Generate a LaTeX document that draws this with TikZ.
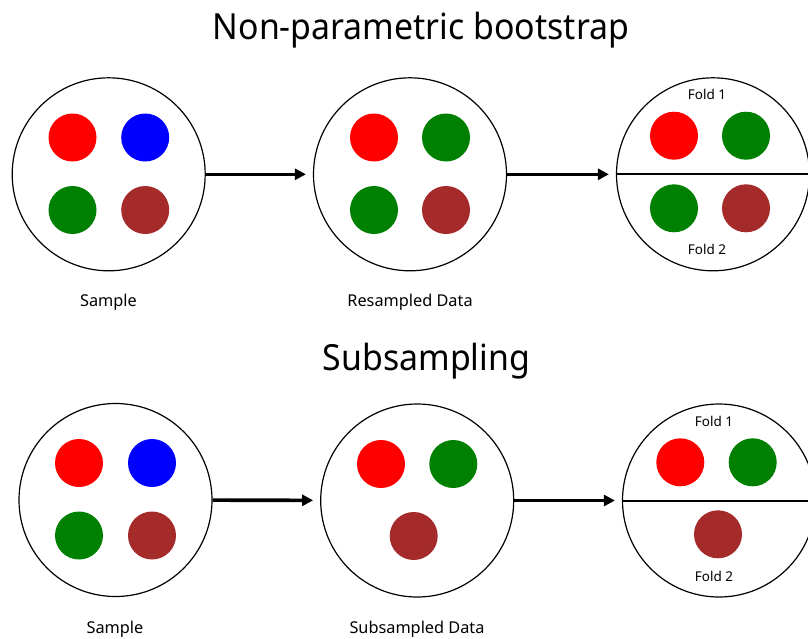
\documentclass[tikz,border=0pt]{standalone}
\usepackage{fontspec}
\setmainfont{Noto Sans}
\usetikzlibrary{arrows.meta}
\definecolor{dred}{HTML}{FF0000}
\definecolor{dblue}{HTML}{0000FF}
\definecolor{dgreen}{HTML}{008000}
\definecolor{dbrown}{HTML}{A52A2A}
\tikzset{
  bag/.style={circle, draw=black, line width=1.2pt, minimum size=193pt, inner sep=0pt},
  dot/.style={circle, fill=#1, draw=none, minimum size=48pt, inner sep=0pt},
  flow/.style={line width=3.6pt, -{Triangle[length=11pt,width=11pt]}, shorten >=7pt},
  divider/.style={line width=2pt},
  title/.style={anchor=base, font=\fontsize{36}{40}\selectfont},
  caption/.style={anchor=base, font=\fontsize{16.3}{19}\selectfont},
  foldlbl/.style={anchor=base, font=\fontsize{13.5}{15}\selectfont},
}
\begin{document}
\begin{tikzpicture}[x=1pt,y=-1pt]
\useasboundingbox (0,0) rectangle (808,638);
\clip (0,0) rectangle (808,638);
% ---------- top row ----------
\node[title] (t1) at (421,39) {\scalebox{0.94}[1]{Non-parametric bootstrap}};
\node[bag] (a1) at (108.7,174.3) {};
\node[bag] (a2) at (410,174.3) {};
\node[bag] (a3) at (713,174.3) {};
\node[dot=dred]   (a1r) at (72.5,137.5) {};
\node[dot=dblue]  (a1b) at (145.2,137.5) {};
\node[dot=dgreen] (a1g) at (72.5,210) {};
\node[dot=dbrown] (a1k) at (145.2,210) {};
\node[dot=dred]   (a2r) at (374,137.5) {};
\node[dot=dgreen] (a2g) at (446,137.5) {};
\node[dot=dgreen] (a2g2) at (374,210) {};
\node[dot=dbrown] (a2k) at (446,210) {};
\node[dot=dred]   (a3r) at (674,135.7) {};
\node[dot=dgreen] (a3g) at (746,135.7) {};
\node[dot=dgreen] (a3g2) at (674,208.3) {};
\node[dot=dbrown] (a3k) at (746,208.3) {};
\draw[divider] (a3.west) -- (a3.east);
\node[foldlbl] (a3f1) at (707,99.3) {Fold 1};
\node[foldlbl] (a3f2) at (707,254) {Fold 2};
\draw[flow] (a1) -- (a2);
\draw[flow] (a2) -- (a3);
\node[caption] (a1l) at (108.5,306.5) {Sample};
\node[caption] (a2l) at (410,306.5) {Resampled Data};
% ---------- bottom row ----------
\node[title] (t2) at (426.5,370) {\scalebox{0.94}[1]{Subsampling}};
\node[bag] (b1) at (115.5,500) {};
\node[bag] (b2) at (417.2,500.5) {};
\node[bag] (b3) at (719,500.5) {};
\node[dot=dred]   (b1r) at (79,463) {};
\node[dot=dblue]  (b1b) at (152,463) {};
\node[dot=dgreen] (b1g) at (79,535.5) {};
\node[dot=dbrown] (b1k) at (152,535.5) {};
\node[dot=dred]   (b2r) at (381,464) {};
\node[dot=dgreen] (b2g) at (453.3,464) {};
\node[dot=dbrown] (b2k) at (413.7,536) {};
\node[dot=dred]   (b3r) at (680.3,462.3) {};
\node[dot=dgreen] (b3g) at (752.7,462.3) {};
\node[dot=dbrown] (b3k) at (718,534.3) {};
\draw[divider] (b3.west) -- (b3.east);
\node[foldlbl] (b3f1) at (714,426) {Fold 1};
\node[foldlbl] (b3f2) at (714,581) {Fold 2};
\draw[flow] (b1) -- (b2);
\draw[flow] (b2) -- (b3);
\node[caption] (b1l) at (115,633) {Sample};
\node[caption] (b2l) at (417,633) {Subsampled Data};
\end{tikzpicture}
\end{document}
